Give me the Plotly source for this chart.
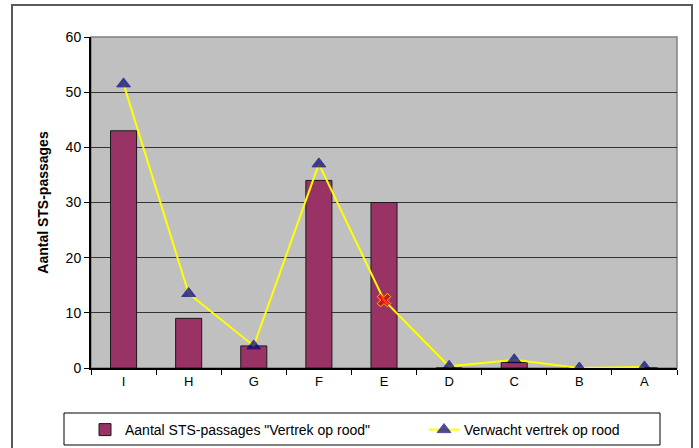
import plotly.graph_objects as go

categories = ["I", "H", "G", "F", "E", "D", "C", "B", "A"]
passages = [43, 9, 4, 34, 30, 0, 1, 0, 0]
expected = [51.5, 13.5, 4, 37, 12.3, 0.3, 1.5, 0, 0.2]
y_ticks = [0, 10, 20, 30, 40, 50, 60]

bar_name = 'Aantal STS-passages "Vertrek op rood"'
line_name = "Verwacht vertrek op rood"

symbols = ["x" if c == "E" else "triangle-up" for c in categories]
mcolors = ["#FF0000" if c == "E" else "#000080" for c in categories]
mlcolors = ["#FFFF00" if c == "E" else "#000080" for c in categories]
msizes = [12 for c in categories]

fig = go.Figure()
fig.add_trace(go.Bar(
    x=categories, y=passages, name=bar_name,
    marker=dict(color="#993366", line=dict(color="#1a1a1a", width=1)),
    width=0.4, legend="legend",
))
fig.add_trace(go.Scatter(
    x=categories, y=expected, name=line_name, mode="lines+markers",
    line=dict(color="#FFFF00", width=2),
    marker=dict(symbol=symbols, color=mcolors, size=msizes,
                line=dict(color=mlcolors, width=1)),
    legend="legend2",
))

L, R, T, B = 91, 22, 37, 80
W, H = 699, 448
pw = W - L - R
ph = H - T - B

def px_x(p):
    return (p - L) / pw

def px_y(p):
    return (H - B - p) / ph

shapes = [
    # outer chart border
    dict(type="rect", xref="paper", yref="paper",
         x0=px_x(12), x1=px_x(692), y0=px_y(470), y1=px_y(5),
         line=dict(color="#5a5a5a", width=2), layer="below"),
    # plot area border
    dict(type="rect", xref="paper", yref="paper",
         x0=0, x1=1, y0=0, y1=1,
         line=dict(color="#808080", width=1.5), layer="below"),
    # legend box
    dict(type="rect", xref="paper", yref="paper",
         x0=px_x(64), x1=px_x(660), y0=px_y(445), y1=px_y(413),
         line=dict(color="#000000", width=1)),
]

legend_common = dict(orientation="h", xanchor="left", yanchor="top",
                     y=px_y(414), font=dict(size=14),
                     bgcolor="rgba(0,0,0,0)", itemwidth=30)

fig.update_layout(
    width=W, height=H,
    margin=dict(l=L, r=R, t=T, b=B, autoexpand=False),
    paper_bgcolor="#FFFFFF",
    plot_bgcolor="#C0C0C0",
    font=dict(family="Liberation Sans, Arial, sans-serif", size=12, color="#000000"),
    showlegend=True,
    legend=dict(x=px_x(85), **legend_common),
    legend2=dict(x=px_x(424), **legend_common),
    shapes=shapes,
)
fig.update_xaxes(
    type="category", showgrid=False, tickson="boundaries",
    ticks="outside", ticklen=5, tickcolor="#000000",
    showline=True, linecolor="#000000", linewidth=2,
    tickfont=dict(size=13), range=[-0.5, 8.5], automargin=False,
)
fig.update_yaxes(
    range=[0, 60], tickvals=y_ticks, showgrid=True, gridcolor="#333333", gridwidth=1,
    ticks="outside", ticklen=5, tickcolor="#000000",
    showline=True, linecolor="#000000", linewidth=2,
    zeroline=False, tickfont=dict(size=14), automargin=False,
    title=dict(text="<b>Aantal STS-passages</b>", font=dict(size=14), standoff=14),
)

fig.write_html("out.html", config={"displayModeBar": False},
               post_script="document.body.style.margin='0';document.body.style.overflow='hidden';")
